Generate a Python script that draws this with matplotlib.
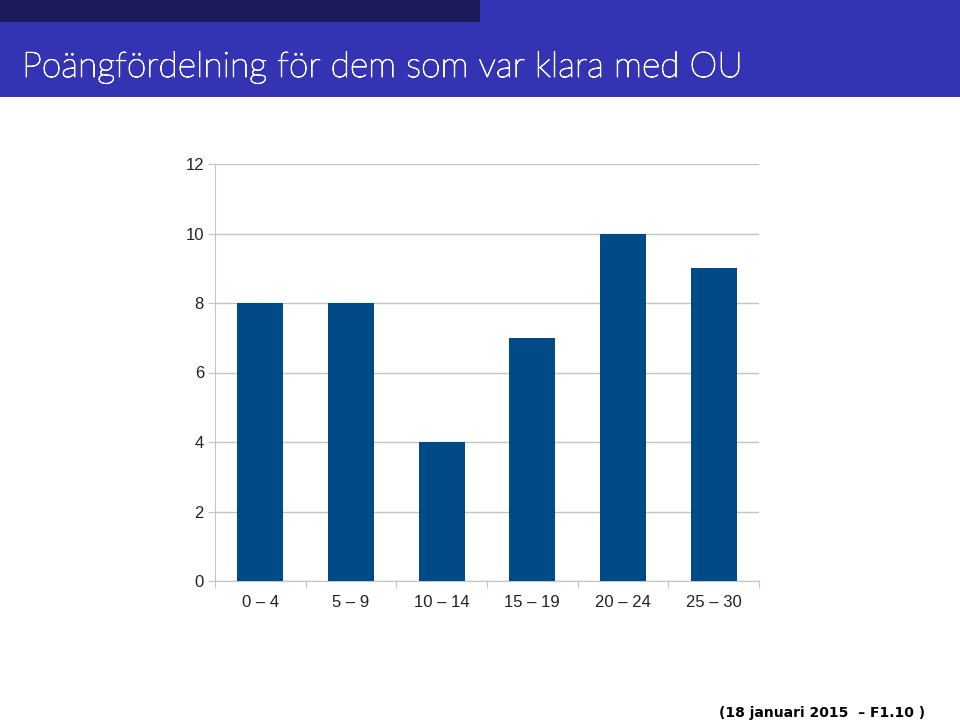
import matplotlib; matplotlib.use("Agg")
import matplotlib.pyplot as plt
import matplotlib.patheffects as pe
from matplotlib.patches import Rectangle

# ---- data ----
categories = ["0 – 4", "5 – 9", "10 – 14", "15 – 19", "20 – 24", "25 – 30"]
counts = [8, 8, 4, 7, 10, 9]
yticks = [0, 2, 4, 6, 8, 10, 12]

title = "Poängfördelning för dem som var klara med OU"
footer = "(18 januari 2015  – F1.10 )"

fig = plt.figure(figsize=(9.6, 7.2), dpi=100)
fig.patch.set_facecolor("white")

# ---- beamer header (pixel coords -> figure fraction) ----
W, H = 960, 720
def fx(px): return px / W
def fy(py): return 1 - py / H
fig.add_artist(Rectangle((0, fy(97)), 1, (97 - 22) / H, transform=fig.transFigure, facecolor="#3333B3", edgecolor="none"))
fig.add_artist(Rectangle((0, fy(22)), fx(480), 22 / H, transform=fig.transFigure, facecolor="#1B1B5C", edgecolor="none"))
fig.add_artist(Rectangle((fx(480), fy(22)), 1 - fx(480), 22 / H, transform=fig.transFigure, facecolor="#3333B3", edgecolor="none"))
fig.text(fx(22), fy(77), title, color="white", fontsize=25.5, family="Lato", weight="light", va="baseline", ha="left",
         path_effects=[pe.withStroke(linewidth=0.7, foreground="white")])
fig.text(fx(925), fy(717), footer, color="black", fontsize=10, family="DejaVu Sans", weight="bold", va="baseline", ha="right")

# ---- chart ----
ax = fig.add_axes([fx(215), fy(581), fx(759) - fx(215), (581 - 164) / H])
x = range(len(categories))
ax.bar(x, counts, width=0.51, color="#004A87", zorder=3)
ax.set_xlim(-0.5, len(categories) - 0.5)
ax.set_ylim(0, 12)
ax.set_yticks(yticks)
ax.set_yticklabels([str(t) for t in yticks])
ax.yaxis.grid(True, color="#C4C4C4", lw=1, zorder=0)
# tick marks between categories, labels centred on the bars
ax.set_xticks([i - 0.5 for i in range(len(categories) + 1)])
ax.set_xticklabels([""] * (len(categories) + 1))
ax.set_xticks(list(x), minor=True)
ax.set_xticklabels(categories, minor=True)
ax.tick_params(axis="x", which="major", length=5, color="#C4C4C4", direction="out")
ax.tick_params(axis="x", which="minor", length=0, pad=10, labelsize=12)
ax.tick_params(axis="y", length=5, color="#C4C4C4", pad=3, labelsize=12)
for lab in ax.get_xticklabels(minor=True) + ax.get_yticklabels():
    lab.set_family("Liberation Sans")
    lab.set_color("#222222")
for s in ["top", "right"]:
    ax.spines[s].set_visible(False)
ax.spines["left"].set_color("#C4C4C4")
ax.spines["bottom"].set_color("#C4C4C4")

fig.savefig("out.png", dpi=100)
